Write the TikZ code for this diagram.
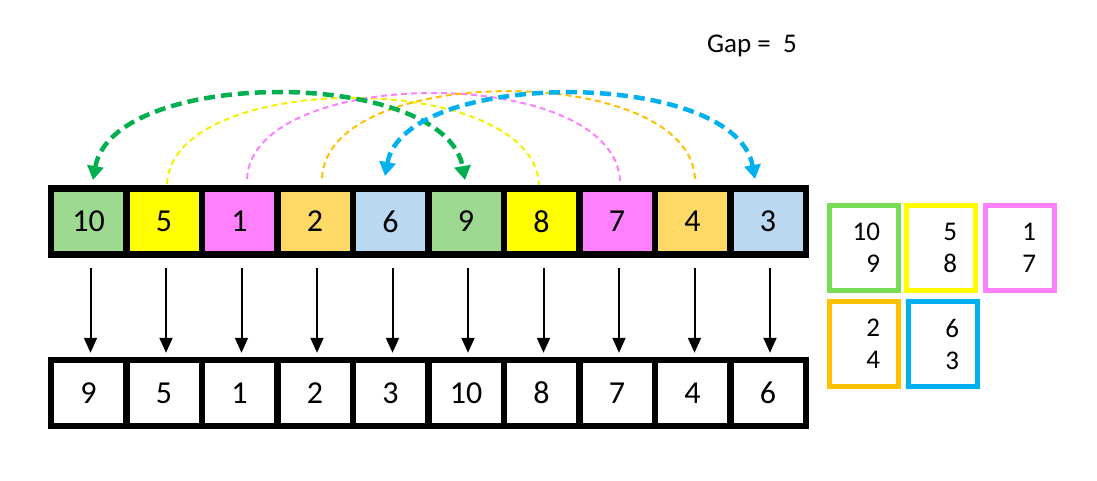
\documentclass[tikz,border=0pt]{standalone}
\usepackage{fontspec}
\setmainfont{Carlito}
\usetikzlibrary{arrows.meta,calc}
\definecolor{cgreen}{HTML}{9DD990}
\definecolor{cyellow}{HTML}{FFFF00}
\definecolor{cpink}{HTML}{FF80FF}
\definecolor{corange}{HTML}{FFD966}
\definecolor{cblue}{HTML}{BAD8EF}
\definecolor{bgreen}{HTML}{77DD55}
\definecolor{byellow}{HTML}{FFFF00}
\definecolor{bpink}{HTML}{FF80FF}
\definecolor{borange}{HTML}{FFC000}
\definecolor{bblue}{HTML}{00B0F0}
\definecolor{agreen}{HTML}{00B050}
\definecolor{ablue}{HTML}{00B0F0}
\definecolor{ayellow}{HTML}{F5F000}
\tikzset{
  cell/.style={draw=black,line width=6.5pt,minimum width=75.5pt,minimum height=66pt,inner sep=0pt,font=\fontsize{32}{36}\selectfont},
  grp/.style={draw=#1,line width=5pt,minimum width=69pt,minimum height=85pt,inner sep=0pt,text width=32pt,align=right,font=\fontsize{27}{32}\selectfont},
  downarrow/.style={line width=2pt,-{Triangle[width=13pt,length=15pt]},shorten <=10pt,shorten >=4pt},
  bigarc/.style={draw=#1,line width=4.5pt,dash pattern=on 11pt off 6pt,{Triangle[width=16pt,length=14pt,fill=#1]}-{Triangle[width=16pt,length=14pt,fill=#1]}},
  thinarc/.style={draw=#1,line width=2pt,dash pattern=on 6pt off 4pt},
}
\begin{document}
\begin{tikzpicture}[x=1pt,y=-1pt]
\useasboundingbox (0,0) rectangle (1097,480);
% top row
\foreach \v/\c [count=\i from 0] in {10/cgreen,5/cyellow,1/cpink,2/corange,6/cblue,9/cgreen,8/cyellow,7/cpink,4/corange,3/cblue}{
  \node[cell,fill=\c] (t\i) at (88.5+75.5*\i,221.5) {\v};
}
% bottom row
\foreach \v [count=\i from 0] in {9,5,1,2,3,10,8,7,4,6}{
  \node[cell,fill=white] (b\i) at (88.5+75.5*\i,393) {\v};
}
\foreach \i in {0,...,9}{
  \draw[downarrow] ($(t\i.south)+(2,0)$) -- ($(b\i.north)+(2,0)$);
}
% arc end points
\coordinate (gA) at (93,180); \coordinate (gB) at (465,180);
\coordinate (yA) at (167,184); \coordinate (yB) at (539,185);
\coordinate (pA) at (247,179); \coordinate (pB) at (620,181);
\coordinate (oA) at (322,178); \coordinate (oB) at (695,179);
\coordinate (lA) at (385,176); \coordinate (lB) at (755,179);
\draw[thinarc=ayellow] (yA) .. controls (172,69) and (534,69) .. (yB);
\draw[thinarc=bpink] (pA) .. controls (252,64) and (615,64) .. (pB);
\draw[thinarc=borange] (oA) .. controls (327,62) and (690,62) .. (oB);
\draw[bigarc=agreen] (gA) .. controls (113,67) and (445,67) .. (gB);
\draw[bigarc=ablue] (lA) .. controls (405,68) and (735,68) .. (lB);
% groups
\node[grp=bgreen] (g1) at (864,248) {10\\9};
\node[grp=byellow] (g2) at (941,248) {5\\8};
\node[grp=bpink] (g3) at (1020,248) {1\\7};
\node[grp=borange] (g4) at (864,344) {2\\4};
\node[grp=bblue] (g5) at (943,344) {6\\3};
% gap label
\node[anchor=west,font=\fontsize{27}{30}\selectfont,inner sep=0pt] (gap) at (707,46) {Gap =\ \ 5};
\end{tikzpicture}
\end{document}
